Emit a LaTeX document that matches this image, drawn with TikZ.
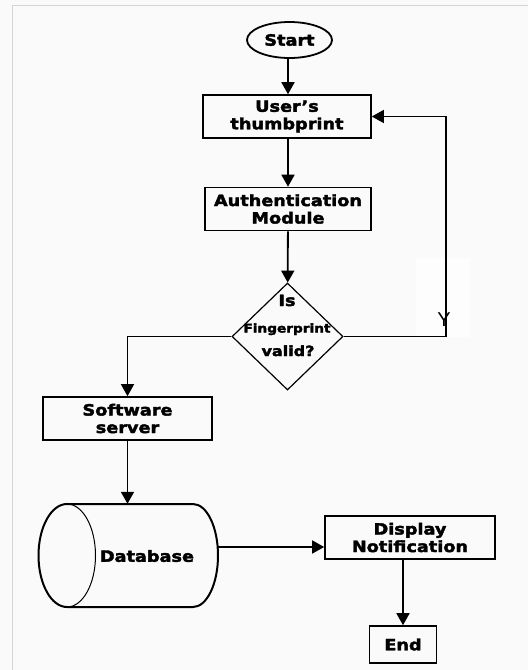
\documentclass[tikz,border=0pt]{standalone}
\usepackage{fontspec}
\setmainfont{DejaVu Sans}[FakeStretch=1.14, BoldFeatures={FakeBold=2.5}]
\newfontfamily\ysans{Liberation Sans}
\usetikzlibrary{shapes.geometric,arrows.meta}
\definecolor{pagebg}{HTML}{FAFAFA}
\definecolor{patch}{HTML}{FDFDFD}
\definecolor{framegray}{HTML}{D4D4D4}
\begin{document}
\begin{tikzpicture}[x=1pt,y=-1pt,
  every node/.style={font=\bfseries\fontsize{15.5}{17.5}\selectfont, align=center, inner sep=0pt},
  box/.style={draw, line width=1.6pt, minimum width=#1, minimum height=43pt},
  arr/.style={line width=1.8pt, -{Triangle[length=12pt,width=13pt]}},
  link/.style={line width=1.4pt}]
% page and frame
\fill[pagebg] (0,0) rectangle (528,670);
\useasboundingbox (0,0) rectangle (528,670);
\draw[framegray, line width=1pt] (12,670) -- (12,5) -- (528,5);

% nodes
\node[ellipse, draw, line width=1.8pt, minimum width=85pt, minimum height=36pt] (start) at (289.5,40) {Start};
\node[box=168] (user) at (287,116.5) {User’s\\thumbprint};
\node[box=166] (auth) at (288,209) {Authentication\\Module};
\node[diamond, draw, line width=1.2pt, minimum width=111pt, minimum height=107pt] (dec) at (287.5,336.5) {};
\node[anchor=base] (q1) at (287,306) {Is};
\node[anchor=base, font=\bfseries\fontsize{12}{14}\selectfont] (q2) at (287,332.5) {Fingerprint};
\node[anchor=base, font=\bfseries\fontsize{14}{16}\selectfont] (q3) at (288,356) {valid?};
\node[box=169] (server) at (127.5,418.5) {Software\\server};

% database cylinder
\node[minimum width=180pt, minimum height=103pt] (db) at (128,555.5) {};
\draw[line width=2pt] (67,504) -- (193,504)
  arc[start angle=-90, end angle=90, x radius=25, y radius=51.5]
  -- (67,607)
  arc[start angle=90, end angle=270, x radius=28.5, y radius=51.5] -- cycle;
\draw[line width=1pt] (67,504) arc[start angle=-90, end angle=90, x radius=28.5, y radius=51.5];
\node (dblabel) at (147,556) {Database};

\node[box=170] (disp) at (410,537.5) {Display\\Notification};
\node[draw, line width=1.6pt, minimum width=67pt, minimum height=37pt] (endn) at (403,644.5) {End};

% connectors
\draw[arr] (user.north -| 288,0) ++(0,-37) coordinate (s0) -- (s0 |- user.north);
\draw[arr] (user.south -| auth.north) -- (auth.north);
\draw[arr] (auth) -- (dec);
\draw[arr, line width=1.4pt] (dec.west) -| (server.north);
\draw[arr] (server.south) -- (server.south |- db.north);
\coordinate (dbout) at (218,547);
\draw[arr, line width=1.4pt] (dbout) -- (dbout -| disp.west);
\draw[arr] (endn.north |- disp.south) -- (endn.north);

% return loop with its label
\fill[patch] (416,258) rectangle (470,337);
\coordinate (loopx) at (446,0);
\draw[arr, line width=1.4pt] (dec.east) -- (dec.east -| loopx) -- (loopx |- user.east) -- (user.east);
\node[anchor=base, font=\ysans\fontsize{20}{20}\selectfont] (ylab) at (444,326) {Y};
\end{tikzpicture}
\end{document}
